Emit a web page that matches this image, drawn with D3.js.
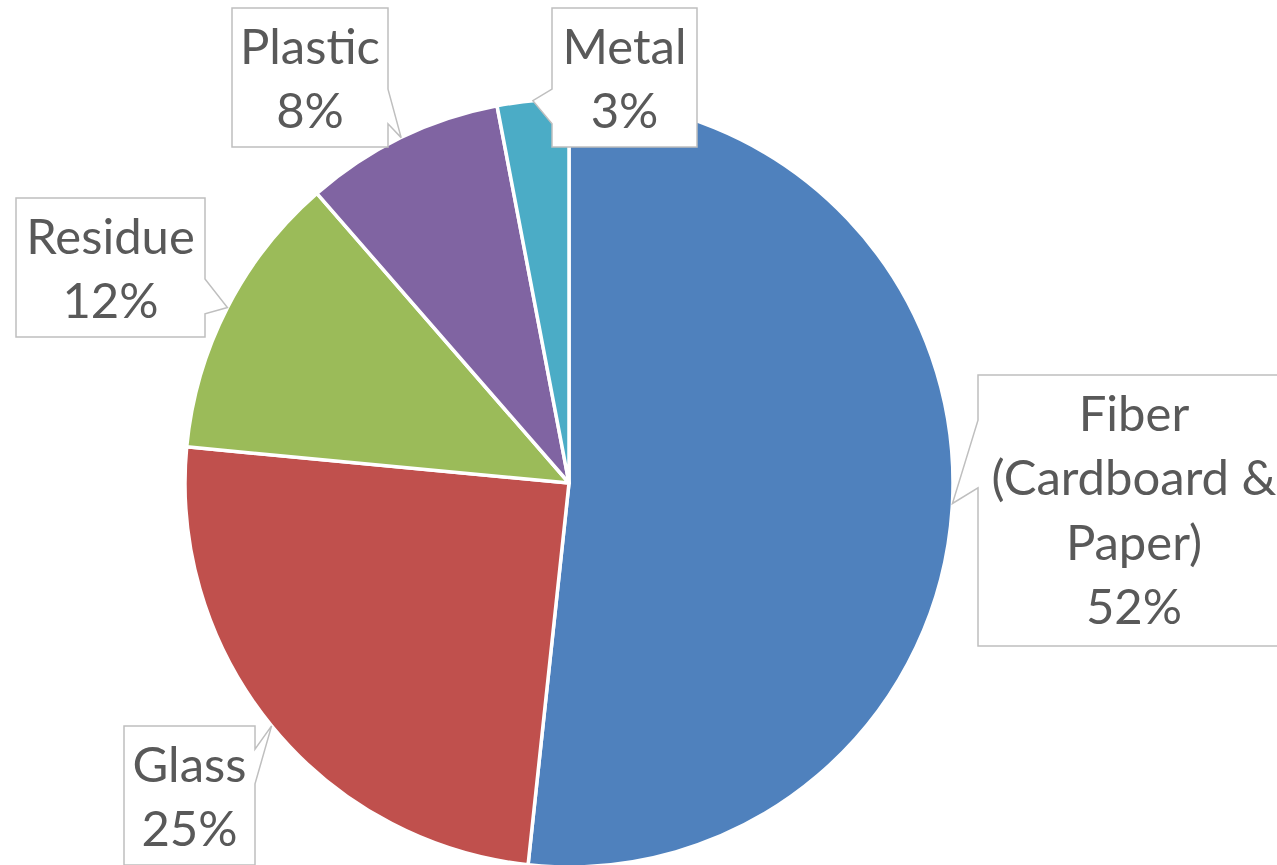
<!DOCTYPE html>
<html>
<head>
<meta charset="utf-8">
<script src="https://cdn.jsdelivr.net/npm/d3@7"></script>
<style>
  html, body { margin: 0; padding: 0; background: #ffffff; overflow: hidden; }
  svg { display: block; }
</style>
</head>
<body>
<svg id="chart" width="1277" height="865"></svg>
<script>
// ---- data ----
const categories = ["Fiber (Cardboard & Paper)", "Glass", "Residue", "Plastic", "Metal"];
const labelLines = [["Fiber", "(Cardboard &", "Paper)"], ["Glass"], ["Residue"], ["Plastic"], ["Metal"]];
const values = [51.7, 24.8, 12.1, 8.4, 3.0];
const colors = ["#4F81BD", "#C0504D", "#9BBB59", "#8064A2", "#4BACC6"];

// ---- layout (label box placement) ----
const boxes = [
  {x: 978, y: 375, w: 312, h: 271},
  {x: 124, y: 726, w: 131, h: 139},
  {x: 16,  y: 198, w: 189, h: 139},
  {x: 232, y: 8,   w: 156, h: 139},
  {x: 552, y: 8,   w: 145, h: 139}
];

const cx = 569, cy = 483, R = 384;
const svg = d3.select("#chart");
const total = d3.sum(values);

const pie = d3.pie().sort(null).value(d => d);
const arcs = pie(values);
const arc = d3.arc().innerRadius(0).outerRadius(R);
const edge = d3.arc().innerRadius(R).outerRadius(R);

const g = svg.append("g").attr("transform", `translate(${cx},${cy})`);
g.selectAll("path.slice").data(arcs).join("path")
  .attr("class", "slice")
  .attr("d", arc)
  .attr("fill", (d, i) => colors[i])
  .attr("stroke", "#ffffff")
  .attr("stroke-width", 3.5)
  .attr("stroke-linejoin", "round");

// ---- callout labels ----
function calloutPath(b, tx, ty) {
  const bcx = b.x + b.w / 2, bcy = b.y + b.h / 2;
  const dx = (tx - bcx) / b.w, dy = (ty - bcy) / b.h;
  const x0 = b.x, x1 = b.x + b.w, y0 = b.y, y1 = b.y + b.h;
  let pts;
  if (Math.abs(dx) >= Math.abs(dy)) {
    const fa = dy < 0 ? 2/12 : 7/12, fb = dy < 0 ? 5/12 : 10/12;
    const ya = y0 + b.h * fa, yb = y0 + b.h * fb;
    if (dx > 0) {
      pts = [[x0,y0],[x1,y0],[x1,ya],[tx,ty],[x1,yb],[x1,y1],[x0,y1]];
    } else {
      pts = [[x0,y0],[x1,y0],[x1,y1],[x0,y1],[x0,yb],[tx,ty],[x0,ya]];
    }
  } else {
    const fa = dx < 0 ? 2/12 : 7/12, fb = dx < 0 ? 5/12 : 10/12;
    const xa = x0 + b.w * fa, xb = x0 + b.w * fb;
    if (dy < 0) {
      pts = [[x0,y0],[xa,y0],[tx,ty],[xb,y0],[x1,y0],[x1,y1],[x0,y1]];
    } else {
      pts = [[x0,y0],[x1,y0],[x1,y1],[xb,y1],[tx,ty],[xa,y1],[x0,y1]];
    }
  }
  return "M" + pts.map(p => p.join(",")).join("L") + "Z";
}

const labels = svg.append("g");
arcs.forEach((a, i) => {
  const b = boxes[i];
  const c = edge.centroid(a);
  const tx = cx + c[0], ty = cy + c[1];
  labels.append("path")
    .attr("d", calloutPath(b, tx, ty))
    .attr("fill", "#ffffff")
    .attr("stroke", "#bfbfbf")
    .attr("stroke-width", 1.5);
  const lines = labelLines[i].concat([Math.round(values[i] / total * 100) + "%"]);
  const t = labels.append("text")
    .attr("text-anchor", "middle")
    .attr("font-family", "Lato, 'Open Sans', sans-serif")
    .attr("font-size", 49)
    .attr("fill", "#595959");
  lines.forEach((ln, k) => {
    t.append("tspan")
      .attr("x", b.x + b.w / 2)
      .attr("y", b.y + 56 + k * 64.4)
      .text(ln);
  });
});
</script>
</body>
</html>
